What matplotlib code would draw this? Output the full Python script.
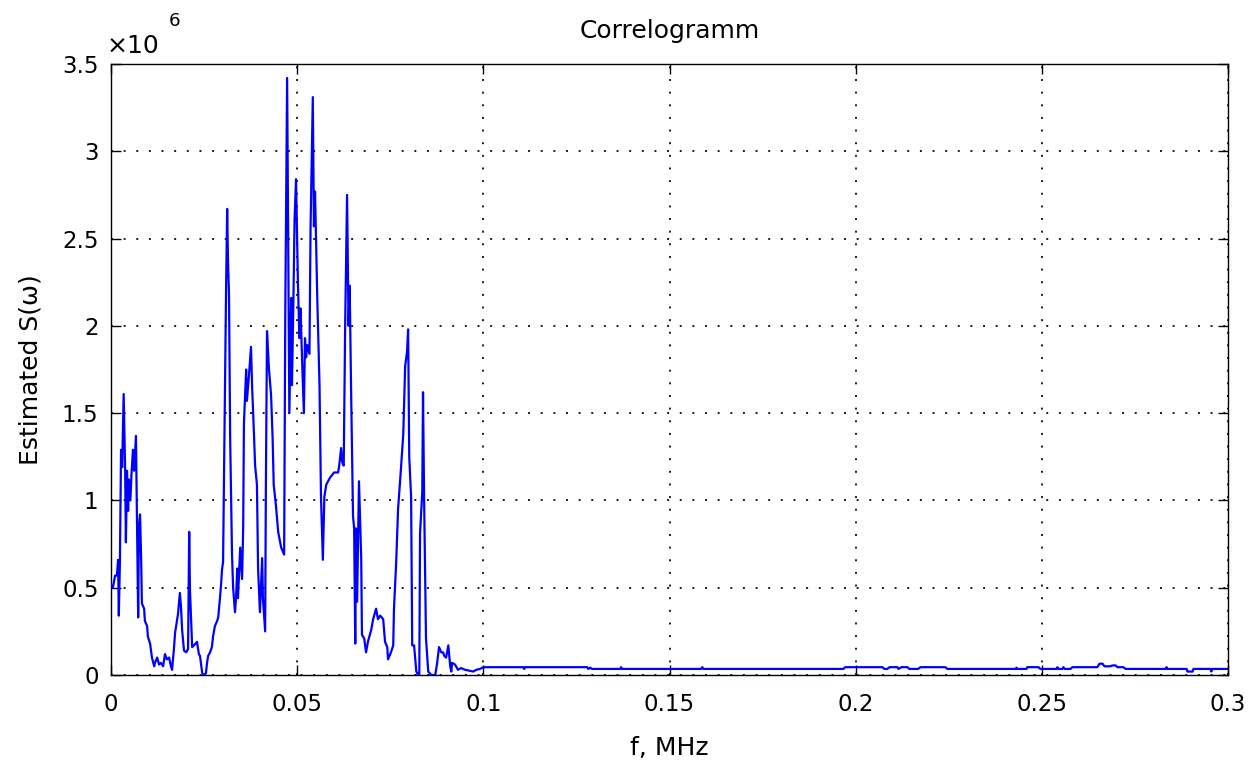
import matplotlib
matplotlib.use("Agg")
import matplotlib.pyplot as plt
from matplotlib.ticker import FormatStrFormatter

# Frequency axis (MHz) and correlogram estimate S(w) in units of 1e6
freq_mhz = [
    0.0000, 0.0005, 0.0011, 0.0016, 0.0019, 0.0021, 0.0024, 0.0027, 0.0030, 0.0034,
    0.0038, 0.0040, 0.0043, 0.0046, 0.0048, 0.0052, 0.0055, 0.0059, 0.0062, 0.0067,
    0.0070, 0.0073, 0.0075, 0.0078, 0.0081, 0.0083, 0.0089, 0.0091, 0.0097, 0.0099,
    0.0105, 0.0110, 0.0116, 0.0118, 0.0124, 0.0129, 0.0134, 0.0140, 0.0145, 0.0150,
    0.0156, 0.0161, 0.0164, 0.0169, 0.0172, 0.0177, 0.0180, 0.0185, 0.0188, 0.0191,
    0.0196, 0.0202, 0.0207, 0.0210, 0.0212, 0.0218, 0.0223, 0.0231, 0.0236, 0.0239,
    0.0245, 0.0250, 0.0255, 0.0258, 0.0261, 0.0266, 0.0271, 0.0274, 0.0279, 0.0285,
    0.0288, 0.0293, 0.0296, 0.0298, 0.0301, 0.0306, 0.0309, 0.0312, 0.0314, 0.0317,
    0.0320, 0.0325, 0.0328, 0.0333, 0.0336, 0.0339, 0.0341, 0.0347, 0.0352, 0.0355,
    0.0357, 0.0360, 0.0363, 0.0365, 0.0371, 0.0376, 0.0379, 0.0384, 0.0387, 0.0392,
    0.0395, 0.0400, 0.0403, 0.0406, 0.0408, 0.0414, 0.0416, 0.0419, 0.0424, 0.0430,
    0.0434, 0.0437, 0.0443, 0.0449, 0.0457, 0.0465, 0.0468, 0.0473, 0.0476, 0.0479,
    0.0484, 0.0486, 0.0490, 0.0493, 0.0497, 0.0500, 0.0502, 0.0506, 0.0509, 0.0513,
    0.0518, 0.0521, 0.0524, 0.0527, 0.0533, 0.0536, 0.0542, 0.0545, 0.0548, 0.0554,
    0.0560, 0.0564, 0.0569, 0.0573, 0.0578, 0.0588, 0.0599, 0.0610, 0.0613, 0.0618,
    0.0621, 0.0625, 0.0629, 0.0634, 0.0638, 0.0641, 0.0645, 0.0650, 0.0653, 0.0656,
    0.0658, 0.0661, 0.0664, 0.0666, 0.0669, 0.0672, 0.0674, 0.0680, 0.0685, 0.0690,
    0.0699, 0.0704, 0.0712, 0.0717, 0.0723, 0.0731, 0.0736, 0.0742, 0.0744, 0.0752,
    0.0758, 0.0760, 0.0766, 0.0771, 0.0779, 0.0785, 0.0790, 0.0795, 0.0798, 0.0801,
    0.0806, 0.0809, 0.0814, 0.0820, 0.0825, 0.0828, 0.0830, 0.0836, 0.0838, 0.0841,
    0.0846, 0.0852, 0.0860, 0.0871, 0.0876, 0.0881, 0.0887, 0.0892, 0.0895, 0.0900,
    0.0906, 0.0911, 0.0914, 0.0916, 0.0924, 0.0932, 0.0940, 0.0951, 0.0962, 0.0973,
    0.0981, 0.0991, 0.1000,
    0.1107, 0.1110, 0.1112, 0.1279, 0.1282, 0.1287, 0.1292, 0.1368, 0.1370, 0.1373,
    0.1585, 0.1588, 0.1591, 0.1967, 0.1972, 0.2072, 0.2077, 0.2085, 0.2091, 0.2112,
    0.2115, 0.2123, 0.2139, 0.2144, 0.2168, 0.2174, 0.2241, 0.2246, 0.2429, 0.2432,
    0.2434, 0.2459, 0.2461, 0.2491, 0.2496, 0.2539, 0.2542, 0.2544, 0.2555, 0.2558,
    0.2561, 0.2577, 0.2582, 0.2649, 0.2655, 0.2663, 0.2668, 0.2684, 0.2690, 0.2698,
    0.2703, 0.2719, 0.2725, 0.2832, 0.2835, 0.2837, 0.2889, 0.2891, 0.2905, 0.2907,
    0.2953, 0.2955, 0.2958, 0.3000,
]

s_est_1e6 = [
    0.52, 0.50, 0.57, 0.57, 0.66, 0.34, 0.66, 1.29, 1.19, 1.61,
    1.17, 0.76, 1.17, 0.94, 1.12, 1.00, 1.15, 1.29, 1.17, 1.37,
    0.85, 0.33, 0.85, 0.92, 0.66, 0.41, 0.38, 0.31, 0.28, 0.22,
    0.18, 0.10, 0.05, 0.07, 0.10, 0.06, 0.07, 0.05, 0.12, 0.09,
    0.10, 0.05, 0.03, 0.15, 0.24, 0.31, 0.35, 0.47, 0.39, 0.26,
    0.14, 0.13, 0.15, 0.82, 0.49, 0.16, 0.17, 0.19, 0.12, 0.11,
    0.01, 0.00, 0.01, 0.07, 0.11, 0.13, 0.16, 0.22, 0.28, 0.31,
    0.33, 0.45, 0.53, 0.60, 0.65, 1.63, 2.20, 2.67, 2.40, 2.17,
    1.36, 0.69, 0.50, 0.36, 0.45, 0.61, 0.44, 0.73, 0.55, 0.84,
    1.44, 1.60, 1.75, 1.57, 1.73, 1.88, 1.65, 1.38, 1.20, 1.09,
    0.61, 0.36, 0.52, 0.67, 0.44, 0.25, 1.09, 1.97, 1.76, 1.60,
    1.36, 1.09, 0.97, 0.82, 0.73, 0.69, 2.05, 3.42, 2.43, 1.50,
    2.16, 1.66, 2.16, 2.61, 2.84, 2.50, 2.25, 1.93, 2.10, 1.82,
    1.50, 1.93, 1.82, 1.89, 1.84, 2.57, 3.31, 2.57, 2.77, 2.16,
    1.66, 1.02, 0.66, 1.02, 1.09, 1.13, 1.16, 1.16, 1.20, 1.30,
    1.22, 1.20, 2.02, 2.75, 2.00, 2.23, 1.61, 0.91, 0.84, 0.18,
    0.84, 0.42, 0.86, 1.11, 0.90, 0.67, 0.23, 0.21, 0.13, 0.19,
    0.26, 0.32, 0.38, 0.32, 0.34, 0.32, 0.19, 0.16, 0.09, 0.13,
    0.17, 0.38, 0.65, 0.95, 1.19, 1.38, 1.77, 1.85, 1.98, 1.25,
    1.02, 0.17, 0.17, 0.02, 0.00, 0.00, 0.81, 1.05, 1.62, 1.00,
    0.21, 0.02, 0.00, 0.00, 0.07, 0.16, 0.13, 0.13, 0.11, 0.10,
    0.17, 0.05, 0.02, 0.07, 0.06, 0.03, 0.04, 0.03, 0.025, 0.02,
    0.03, 0.035, 0.045,
    0.045, 0.035, 0.045, 0.045, 0.035, 0.042, 0.035, 0.035, 0.045, 0.035,
    0.035, 0.045, 0.035, 0.035, 0.045, 0.045, 0.035, 0.035, 0.045, 0.045,
    0.035, 0.045, 0.045, 0.035, 0.035, 0.045, 0.045, 0.035, 0.035, 0.042,
    0.035, 0.035, 0.045, 0.045, 0.035, 0.035, 0.045, 0.035, 0.035, 0.045,
    0.035, 0.035, 0.045, 0.045, 0.065, 0.065, 0.05, 0.05, 0.055, 0.055,
    0.045, 0.045, 0.035, 0.035, 0.045, 0.035, 0.035, 0.02, 0.02, 0.035,
    0.035, 0.02, 0.035, 0.035,
]

x_ticks = [0, 0.05, 0.1, 0.15, 0.2, 0.25, 0.3]
y_ticks = [0, 0.5, 1, 1.5, 2, 2.5, 3, 3.5]

plt.rcParams["font.family"] = ["DejaVu Sans"]
TICK_FS = 16.5
LABEL_FS = 18

fig = plt.figure(figsize=(12.5, 7.6), dpi=100)
ax = fig.add_axes([0.0888, 0.1118, 0.8936, 0.804])

ax.plot(freq_mhz, s_est_1e6, color=(0, 0, 1), linewidth=1.6, zorder=3)

ax.set_xlim(0, 0.3)
ax.set_ylim(0, 3.5)
ax.set_xticks(x_ticks)
ax.set_yticks(y_ticks)
ax.xaxis.set_major_formatter(FormatStrFormatter("%g"))
ax.yaxis.set_major_formatter(FormatStrFormatter("%g"))

ax.grid(True, color="#1a1a1a", linestyle=(0, (1, 5.5)), linewidth=1.4)
ax.set_axisbelow(True)

ax.tick_params(axis="both", which="both", direction="in", length=7, width=1.0,
               top=True, right=True, labelsize=TICK_FS, colors="black")
ax.tick_params(axis="x", pad=13)
ax.tick_params(axis="y", pad=9)
for sp in ax.spines.values():
    sp.set_linewidth(1.0)
    sp.set_color("black")

ax.set_title("Correlogramm", fontsize=LABEL_FS, pad=19)
ax.set_xlabel("f, MHz", fontsize=LABEL_FS, labelpad=14)
ax.set_ylabel("Estimated S(\u03c9)", fontsize=LABEL_FS, labelpad=14)

# scale factor annotation for the y axis
ax.text(-0.004, 1.010, "\u00d710", transform=ax.transAxes, fontsize=LABEL_FS,
        ha="left", va="bottom")
ax.text(0.052, 1.056, "6", transform=ax.transAxes, fontsize=TICK_FS * 0.8,
        ha="left", va="bottom")

fig.savefig("out.png", dpi=100, facecolor="white")
